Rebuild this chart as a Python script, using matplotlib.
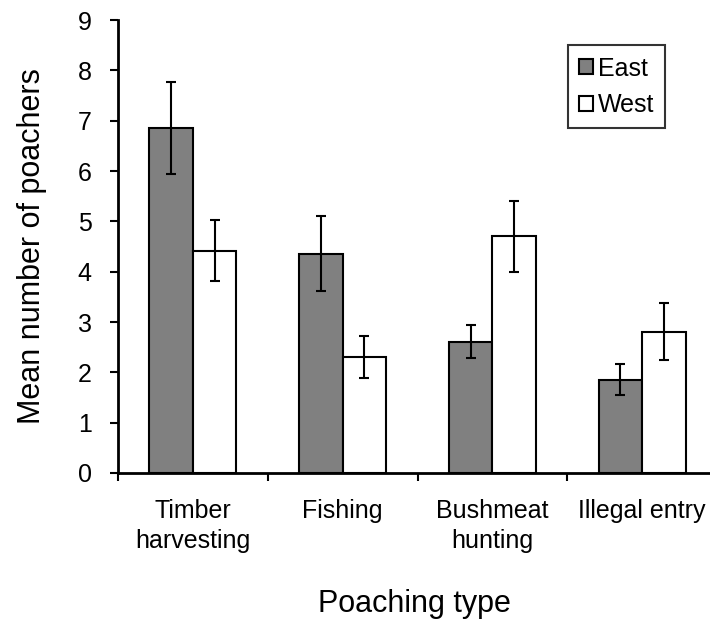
import matplotlib
matplotlib.use("Agg")
import matplotlib.pyplot as plt
import numpy as np

plt.rcParams['font.family'] = ['Liberation Sans', 'DejaVu Sans']

categories = ['Timber\nharvesting', 'Fishing', 'Bushmeat\nhunting', 'Illegal entry']
east = [6.85, 4.36, 2.61, 1.85]
east_err = [0.91, 0.75, 0.33, 0.31]
west = [4.42, 2.30, 4.70, 2.81]
west_err = [0.61, 0.42, 0.70, 0.56]

x = np.arange(len(categories))
w = 0.29

fig = plt.figure(figsize=(7.1, 6.2), dpi=100)
ax = fig.add_axes([0.1662, 0.2371, 0.8338, 0.7306])

ekw = dict(elinewidth=1.5, capthick=1.5, ecolor='black')
ax.bar(x - w/2, east, w, color='#808080', edgecolor='black', linewidth=1.5,
       yerr=east_err, capsize=3.4, error_kw=ekw, label='East')
ax.bar(x + w/2, west, w, color='white', edgecolor='black', linewidth=1.5,
       yerr=west_err, capsize=3.4, error_kw=ekw, label='West')

ax.set_ylim(0, 9)
ax.set_xlim(-0.5, 3.453)
ax.set_yticks(range(10))

# boundary ticks, labels at centres
ax.set_xticks([-0.5, 0.5, 1.5, 2.5])
ax.set_xticklabels([])
ax.set_xticks(x, minor=True)
ax.set_xticklabels(categories, minor=True, fontsize=18, linespacing=1.3)
ax.tick_params(axis='x', which='minor', length=0, pad=19)
ax.tick_params(axis='x', which='major', length=6, width=1.5, direction='out')
ax.tick_params(axis='y', length=6, width=1.5, labelsize=18, pad=13)

for s in ['top', 'right']:
    ax.spines[s].set_visible(False)
for s in ['left', 'bottom']:
    ax.spines[s].set_linewidth(2)

ax.set_ylabel('Mean number of poachers', fontsize=22, labelpad=22)
ax.set_xlabel('Poaching type', fontsize=22, labelpad=26)

leg = ax.legend(loc='upper right', bbox_to_anchor=(0.937, 0.927),
                bbox_transform=fig.transFigure, fontsize=18, frameon=True,
                fancybox=False, edgecolor='black', handlelength=0.55,
                handleheight=0.55, handletextpad=0.2, borderpad=0.45,
                labelspacing=0.5, borderaxespad=0)
leg.get_frame().set_linewidth(1.5)

fig.savefig('out.png', dpi=100)
